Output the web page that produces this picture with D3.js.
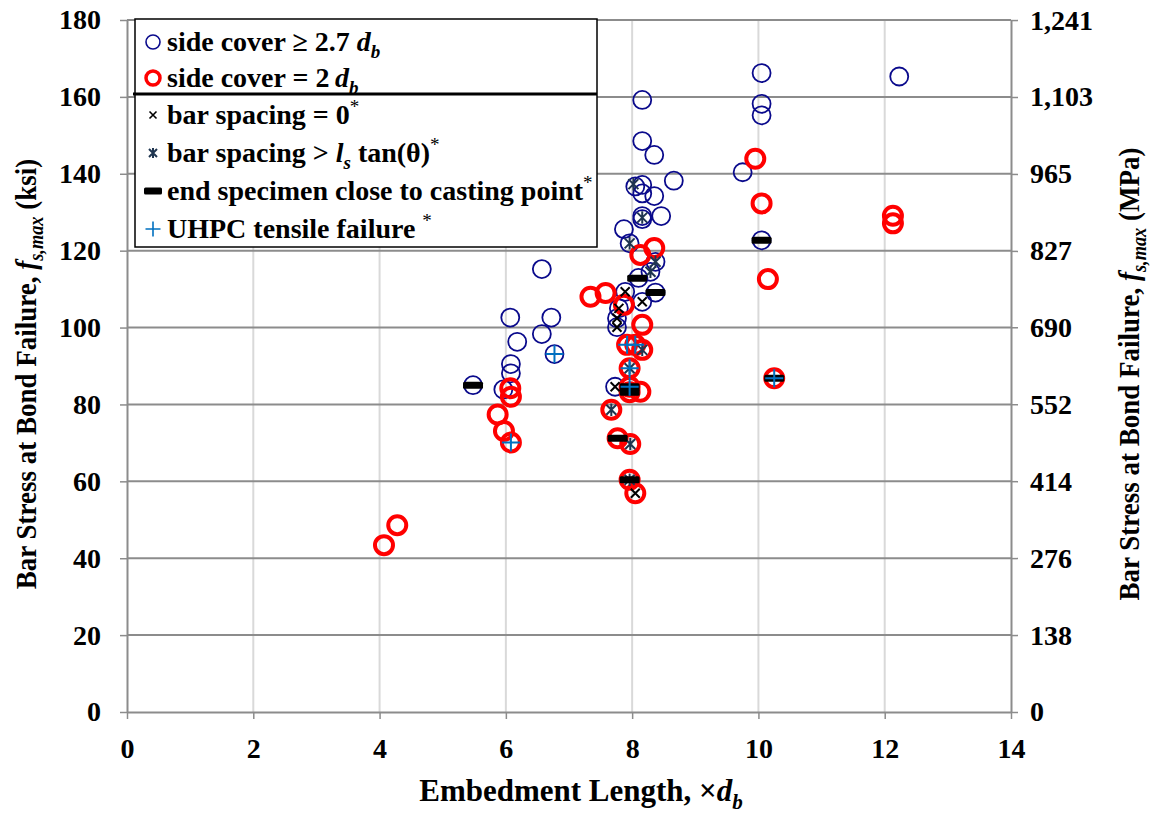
<!DOCTYPE html>
<html>
<head>
<meta charset="utf-8">
<script src="https://cdn.jsdelivr.net/npm/d3@7"></script>
<style>
  body { margin: 0; background: #fff; }
  svg { display: block; }
  text { font-family: "Liberation Serif", "Times New Roman", serif; font-weight: bold; fill: #000; }
</style>
</head>
<body>
<svg id="chart" width="1151" height="815"></svg>
<script>
// Bond tests: embedment length (× d_b) vs. bar stress at bond failure (ksi)
const coverWide = [ // side cover ≥ 2.7 d_b
  [10.05,166.2],[10.05,158.2],[10.05,155.2],[12.23,165.3],
  [8.16,159.2],[8.16,148.5],[8.35,144.9],[8.66,138.2],[9.75,140.4],
  [8.05,136.7],[8.16,137.1],[8.16,134.9],[8.35,134.2],
  [8.16,129.0],[8.16,128.2],[8.46,129.0],[7.87,125.6],[7.96,121.9],
  [8.37,117.1],[8.29,114.5],[8.1,112.9],[8.37,109.1],[7.89,109.3],[8.16,106.7],
  [7.79,105.0],[7.76,102.4],[7.76,100.1],[7.73,84.6],[10.05,122.7],
  [6.57,115.2],[6.07,102.6],[6.72,102.6],[6.57,98.3],[6.18,96.3],[6.77,93.1],
  [6.08,90.5],[6.08,88.1],[5.48,85.0],[5.96,83.9]
];
const coverTwo = [ // side cover = 2 d_b
  [9.95,143.9],[10.05,132.3],[10.15,112.6],[10.25,86.8],[12.13,129.1],[12.13,127.1],
  [4.07,43.4],[4.28,48.6],
  [6.07,84.2],[6.08,82.0],[5.87,77.4],[5.97,73.1],[6.08,70.1],
  [7.34,108.0],[7.58,109.0],[8.13,118.9],[8.35,120.7],[7.87,105.9],[8.16,100.7],
  [7.92,95.5],[8.05,95.5],[8.16,94.2],[7.96,89.4],[7.96,84.6],[7.96,83.2],[8.13,83.3],
  [7.67,78.6],[7.77,71.2],[7.97,69.7],[7.96,60.4],[8.05,56.9]
];
const spacingZero = [ // bar spacing = 0
  [7.89,109.3],[8.16,106.7],[7.79,105.0],[7.76,102.4],[7.76,100.1],[7.73,84.6],[8.05,56.9]
];
const spacingLs = [ // bar spacing > l_s tan(θ)
  [8.02,137.3],[8.16,128.6],[7.96,121.9],[8.37,117.1],[8.29,114.5],
  [8.16,94.2],[7.96,89.4],[7.67,78.6],[7.97,69.7],[7.96,60.4]
];
const castEnd = [ // end specimen close to casting point
  [5.48,85.0],[10.05,122.7],[8.08,112.8],[8.37,109.1],[10.25,86.8],
  [7.96,84.6],[7.96,83.2],[7.77,71.2],[7.96,60.4]
];
const uhpcTensile = [ // UHPC tensile failure
  [6.77,93.1],[6.08,70.1],[10.25,86.8],[7.92,95.5],[8.05,95.5],[7.96,89.4],[7.96,84.6]
];

const xTicks = [0, 2, 4, 6, 8, 10, 12, 14];
const ksiTicks = [0, 20, 40, 60, 80, 100, 120, 140, 160, 180];
const mpaTicks = [0, 138, 276, 414, 552, 690, 827, 965, 1103, 1241];
const KSI_TO_MPA = 6.895;

const svg = d3.select("#chart");
const W = 1151, H = 815;
const plot = { left: 127, right: 1011, top: 20, bottom: 712 };

const x = d3.scaleLinear().domain([0, 14]).range([plot.left, plot.right]);
const y = d3.scaleLinear().domain([0, 180]).range([plot.bottom, plot.top]);
const yMpa = d3.scaleLinear().domain([0, 180 * KSI_TO_MPA]).range([plot.bottom, plot.top]);

svg.append("rect").attr("width", W).attr("height", H).attr("fill", "#fff");

// grid
const grid = svg.append("g");
grid.selectAll(".vg").data(xTicks.filter(d => d > 0 && d < 14)).join("line")
  .attr("x1", d => x(d)).attr("x2", d => x(d))
  .attr("y1", plot.top).attr("y2", plot.bottom)
  .attr("stroke", "#d9d9d9").attr("stroke-width", 2);
grid.selectAll(".hg").data(ksiTicks.filter(d => d > 0)).join("line")
  .attr("x1", plot.left).attr("x2", plot.right)
  .attr("y1", d => y(d)).attr("y2", d => y(d))
  .attr("stroke", "#8c8c8c").attr("stroke-width", 2);

// axes
const FS = 28;
function styleAxis(g) {
  g.select(".domain").attr("stroke", "#8c8c8c").attr("stroke-width", 2);
  g.selectAll(".tick line").attr("stroke", "#8c8c8c").attr("stroke-width", 1.5);
  g.selectAll(".tick text").attr("font-size", FS).attr("fill", "#000");
}
svg.append("g").attr("transform", `translate(0,${plot.bottom})`)
  .call(d3.axisBottom(x).tickValues(xTicks).tickSize(7).tickPadding(19).tickSizeOuter(0))
  .call(styleAxis);
svg.append("g").attr("transform", `translate(${plot.left},0)`)
  .call(d3.axisLeft(y).tickValues(ksiTicks).tickSize(7).tickPadding(19).tickSizeOuter(0))
  .call(styleAxis);
svg.append("g").attr("transform", `translate(${plot.right},0)`)
  .call(d3.axisRight(yMpa).tickValues(mpaTicks).tickFormat(d3.format(",")).tickSize(7).tickPadding(12).tickSizeOuter(0))
  .call(styleAxis);

// rich text: parts = {t, i (italic), sub, sup, light}
function rich(sel, parts, fs) {
  let shift = 0;
  parts.forEach(p => {
    const target = p.sub ? 0.25 * fs : p.sup ? -0.4 * fs : 0;
    const ts = sel.append("tspan").text(p.t)
      .attr("dy", target - shift)
      .attr("font-size", (p.sub || p.sup) ? fs * 0.68 : fs);
    if (p.i) ts.attr("font-style", "italic");
    if (p.light) ts.attr("font-weight", "normal");
    shift = target;
  });
}

// axis titles
const TFS = 31;
rich(svg.append("text").attr("x", 581).attr("y", 801).attr("text-anchor", "middle").attr("font-size", TFS),
  [{t: "Embedment Length, ×"}, {t: "d", i: true}, {t: "b", i: true, sub: true}], TFS);
const VFS = 27;
rich(svg.append("text").attr("transform", `translate(36,${(plot.top + plot.bottom) / 2 + 8}) rotate(-90) scale(1,1.1)`)
  .attr("text-anchor", "middle").attr("font-size", VFS),
  [{t: "Bar Stress at Bond Failure, "}, {t: "f", i: true}, {t: "s,max", i: true, sub: true}, {t: " (ksi)"}], VFS);
rich(svg.append("text").attr("transform", `translate(1139,${(plot.top + plot.bottom) / 2 + 8}) rotate(-90) scale(1,1.1)`)
  .attr("text-anchor", "middle").attr("font-size", VFS),
  [{t: "Bar Stress at Bond Failure, "}, {t: "f", i: true}, {t: "s,max", i: true, sub: true}, {t: " (MPa)"}], VFS);

// markers
const marks = svg.append("g");
const R = 9;
marks.selectAll(".cw").data(coverWide).join("circle")
  .attr("cx", d => x(d[0])).attr("cy", d => y(d[1])).attr("r", R)
  .attr("fill", "none").attr("stroke", "#0a0a8c").attr("stroke-width", 1.8);
marks.selectAll(".ct").data(coverTwo).join("circle")
  .attr("cx", d => x(d[0])).attr("cy", d => y(d[1])).attr("r", R)
  .attr("fill", "none").attr("stroke", "#ff0000").attr("stroke-width", 4);

const crossPath = s => `M${-s},${-s}L${s},${s}M${-s},${s}L${s},${-s}`;
const starPath = s => `M${-s},${-s}L${s},${s}M${-s},${s}L${s},${-s}M0,${-s * 1.25}L0,${s * 1.25}`;
const plusPath = s => `M${-s},0L${s},0M0,${-s}L0,${s}`;

marks.selectAll(".sz").data(spacingZero).join("path")
  .attr("transform", d => `translate(${x(d[0])},${y(d[1])})`)
  .attr("d", crossPath(4.5)).attr("stroke", "#000").attr("stroke-width", 2).attr("fill", "none");
marks.selectAll(".sl").data(spacingLs).join("path")
  .attr("transform", d => `translate(${x(d[0])},${y(d[1])})`)
  .attr("d", starPath(5)).attr("stroke", "#1f3550").attr("stroke-width", 2).attr("fill", "none");
marks.selectAll(".ce").data(castEnd).join("rect")
  .attr("x", d => x(d[0]) - 10).attr("y", d => y(d[1]) - 3.5)
  .attr("width", 20).attr("height", 7).attr("rx", 1.5).attr("fill", "#000");
marks.selectAll(".ut").data(uhpcTensile).join("path")
  .attr("transform", d => `translate(${x(d[0])},${y(d[1])})`)
  .attr("d", plusPath(9)).attr("stroke", "#0070c0").attr("stroke-width", 2).attr("fill", "none");

// legend
const lg = svg.append("g");
const lx = 135, ly = 19, lw = 462, lh = 228;
lg.append("rect").attr("x", lx).attr("y", ly).attr("width", lw).attr("height", lh)
  .attr("fill", "#fff").attr("stroke", "#000").attr("stroke-width", 1.5);
lg.append("line").attr("x1", lx - 2).attr("x2", lx + lw).attr("y1", 94).attr("y2", 94)
  .attr("stroke", "#000").attr("stroke-width", 3);

const LFS = 28;
const legendRows = [
  { cy: 42, kind: "wide", parts: [{t: "side cover ≥ 2.7 "}, {t: "d", i: true}, {t: "b", i: true, sub: true}] },
  { cy: 78, kind: "two", parts: [{t: "side cover = 2\u2009"}, {t: "d", i: true}, {t: "b", i: true, sub: true}] },
  { cy: 115, kind: "zero", parts: [{t: "bar spacing = 0"}, {t: "*", sup: true, light: true}] },
  { cy: 153, kind: "ls", parts: [{t: "bar spacing > "}, {t: "l", i: true}, {t: "s", i: true, sub: true}, {t: " tan(θ)"}, {t: "*", sup: true, light: true}] },
  { cy: 191, kind: "cast", parts: [{t: "end specimen close to casting point"}, {t: "*", sup: true, light: true}] },
  { cy: 229, kind: "uhpc", parts: [{t: "UHPC tensile failure "}, {t: "*", sup: true, light: true}] }
];
const mx = 153;
legendRows.forEach(r => {
  if (r.kind === "wide") lg.append("circle").attr("cx", mx).attr("cy", r.cy).attr("r", 7)
    .attr("fill", "none").attr("stroke", "#0a0a8c").attr("stroke-width", 1.6);
  if (r.kind === "two") lg.append("circle").attr("cx", mx).attr("cy", r.cy).attr("r", 7)
    .attr("fill", "none").attr("stroke", "#ff0000").attr("stroke-width", 3.5);
  if (r.kind === "zero") lg.append("path").attr("transform", `translate(${mx},${r.cy})`)
    .attr("d", crossPath(3.5)).attr("stroke", "#000").attr("stroke-width", 1.6).attr("fill", "none");
  if (r.kind === "ls") lg.append("path").attr("transform", `translate(${mx},${r.cy})`)
    .attr("d", starPath(4)).attr("stroke", "#1f3550").attr("stroke-width", 2).attr("fill", "none");
  if (r.kind === "cast") lg.append("rect").attr("x", mx - 9).attr("y", r.cy - 3.5)
    .attr("width", 18).attr("height", 7).attr("rx", 1.5).attr("fill", "#000");
  if (r.kind === "uhpc") lg.append("path").attr("transform", `translate(${mx},${r.cy})`)
    .attr("d", plusPath(7.5)).attr("stroke", "#0070c0").attr("stroke-width", 1.6).attr("fill", "none");
  rich(lg.append("text").attr("x", 167).attr("y", r.cy + 9).attr("font-size", LFS), r.parts, LFS);
});
</script>
</body>
</html>
